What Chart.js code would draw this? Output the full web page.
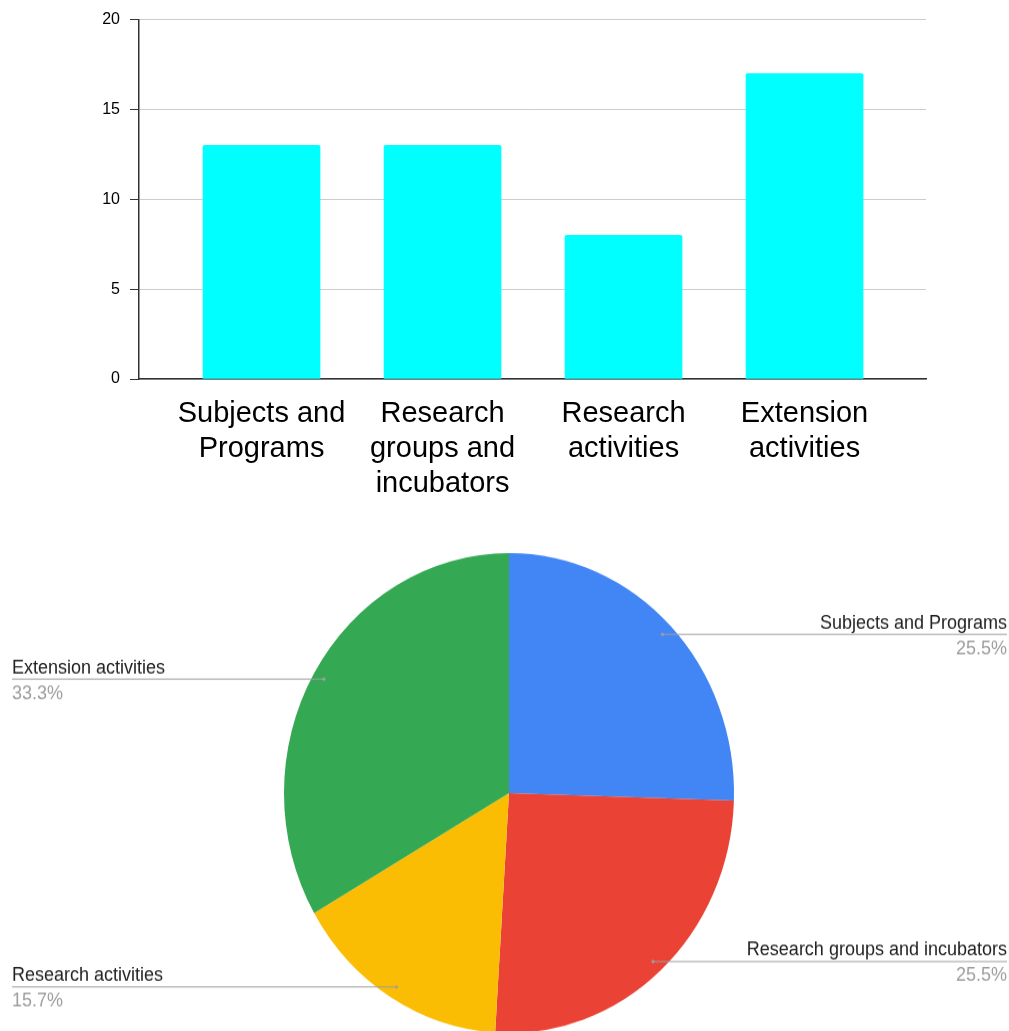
<!DOCTYPE html>
<html>
<head>
<meta charset="utf-8">
<script src="https://cdn.jsdelivr.net/npm/chart.js@4"></script>
<style>
  html, body { margin: 0; padding: 0; background: #fff; overflow: hidden; }
  #barBox { position: absolute; left: 0; top: 0; width: 1009px; height: 510px; }
  #pieBox { position: absolute; left: 0; top: 520px; width: 1009px; height: 512px;
            transform: scaleY(1.0667); transform-origin: top left; }
</style>
</head>
<body>
<div id="barBox"><canvas id="barChart"></canvas></div>
<div id="pieBox"><canvas id="pieChart"></canvas></div>
<script>
// data
var categories = ['Subjects and Programs', 'Research groups and incubators', 'Research activities', 'Extension activities'];
var barTickLines = [['Subjects and', 'Programs'], ['Research', 'groups and', 'incubators'], ['Research', 'activities'], ['Extension', 'activities']];
var counts = [13, 13, 8, 17];
var yTicks = [0, 5, 10, 15, 20];
var pieColors = ['#4285F4', '#EA4335', '#FBBC04', '#34A853'];

// top chart - bars
new Chart('barChart', {
    type: 'bar',
    data: {
        datasets: [{
            data: counts.map(function (v, i) { return {x: i, y: v}; }),
            backgroundColor: '#00FFFF',
            barThickness: 117,
            borderRadius: 2,
            borderSkipped: 'bottom'
        }]
    },
    options: {
        responsive: true,
        maintainAspectRatio: false,
        animation: false,
        layout: {padding: {left: 0, top: 19, right: 83, bottom: 0}},
        plugins: {legend: {display: false}, tooltip: {enabled: false}},
        scales: {
            x: {
                type: 'linear',
                offset: false,
                min: -0.677,
                max: 3.671,
                afterFit: function (scale) { scale.height = 131; },
                grid: {drawOnChartArea: false, drawTicks: false},
                border: {display: true, color: '#333', width: 1.5},
                ticks: {
                    stepSize: 1,
                    includeBounds: false,
                    autoSkip: false,
                    maxRotation: 0,
                    padding: 18,
                    color: '#000',
                    font: {family: 'Liberation Sans, Arial, sans-serif', size: 29, lineHeight: 1.2},
                    callback: function (v) { return Number.isInteger(v) ? barTickLines[v] : ''; }
                }
            },
            y: {
                min: 0,
                max: 20,
                afterFit: function (scale) { scale.width = 139; },
                afterBuildTicks: function (scale) { scale.ticks = yTicks.map(function (v) { return {value: v}; }); },
                grid: {color: '#cccccc', tickColor: '#333', tickLength: 9, lineWidth: 1},
                border: {display: true, color: '#333', width: 1.5},
                ticks: {
                    padding: 10,
                    color: '#000',
                    font: {family: 'Liberation Sans, Arial, sans-serif', size: 16}
                }
            }
        }
    }
});

// pie labels with leader lines
var pieLabels = {
    id: 'pieLabels',
    afterDraw: function (chart) {
        var ctx = chart.ctx;
        var meta = chart.getDatasetMeta(0);
        var total = counts.reduce(function (a, b) { return a + b; }, 0);
        ctx.save();
        meta.data.forEach(function (arc, i) {
            var mid = (arc.startAngle + arc.endAngle) / 2;
            var r = arc.outerRadius * 0.95;
            var px = arc.x + Math.cos(mid) * r;
            var py = arc.y + Math.sin(mid) * r;
            var right = Math.cos(mid) >= 0;
            var edge = right ? 1007 : 12;
            ctx.strokeStyle = '#9e9e9e';
            ctx.lineWidth = 1;
            ctx.beginPath();
            ctx.moveTo(px, py);
            ctx.lineTo(edge, py);
            ctx.stroke();
            ctx.fillStyle = '#9e9e9e';
            ctx.beginPath();
            ctx.arc(px, py, 1.6, 0, Math.PI * 2);
            ctx.fill();
            ctx.textAlign = right ? 'right' : 'left';
            ctx.textBaseline = 'alphabetic';
            ctx.font = '18px "Liberation Sans", Arial, sans-serif';
            ctx.fillStyle = '#222';
            ctx.fillText(categories[i], edge, py - 5.5);
            ctx.fillStyle = '#9e9e9e';
            ctx.fillText((counts[i] / total * 100).toFixed(1) + '%', edge, py + 18.5);
        });
        ctx.restore();
    }
};

// bottom chart - pie
new Chart('pieChart', {
    type: 'pie',
    data: {
        labels: categories,
        datasets: [{
            data: counts,
            backgroundColor: pieColors,
            borderWidth: 0
        }]
    },
    options: {
        responsive: true,
        maintainAspectRatio: false,
        animation: false,
        layout: {padding: {left: 284, right: 275, top: 31, bottom: 31}},
        plugins: {legend: {display: false}, tooltip: {enabled: false}}
    },
    plugins: [pieLabels]
});
</script>
</body>
</html>
